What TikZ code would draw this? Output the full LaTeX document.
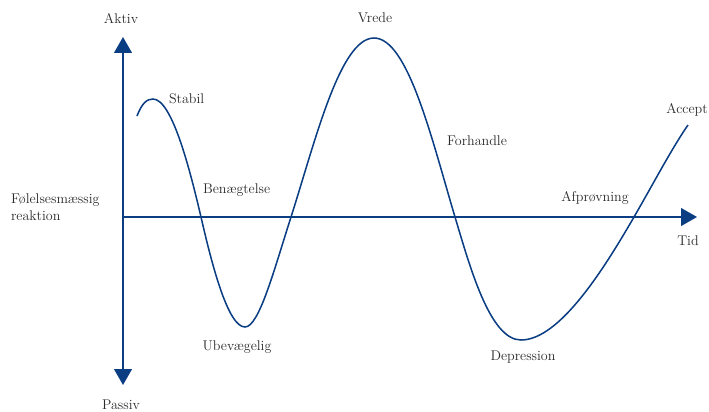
\documentclass[tikz,border=0pt]{standalone}
\usetikzlibrary{arrows.meta}
\definecolor{cblue}{HTML}{0A3D82}
\definecolor{ctext}{HTML}{2B2B2B}
\tikzset{
  every picture/.style={line width=1.5pt},
  axis/.style={draw=cblue, line width=1.6pt, -{Triangle[width=15pt, length=13.5pt]}},
  curve/.style={draw=cblue, line width=1.3pt},
  lbl/.style={font=\fontsize{12}{14}\selectfont, text=ctext, inner sep=1pt},
}

\begin{document}
\begin{tikzpicture}[x=0.03cm, y=-0.03cm]
  \useasboundingbox (0,0) rectangle (709,411);
  % axes
  \coordinate (o) at (123,217);
  \coordinate (top) at (123,37);
  \coordinate (bot) at (123,385);
  \coordinate (right) at (697,217);
  \draw[axis] (o) -- (top);
  \draw[axis] (o) -- (bot);
  \draw[axis] (o) -- (right);
  \node[lbl] (aktiv) at (121,19) {Aktiv};
  \node[lbl] (passiv) at (121,405) {Passiv};
  \node[lbl, align=left, anchor=west] (reakt) at (9,207) {Følelsesmæssig\\reaktion};
  \node[lbl] (tid) at (688,241) {Tid};
  % curve
  \draw[curve] (137,116) .. controls (142,103) and (147,99) .. (153,99)
    .. controls (172,99) and (190,170) .. (201,217)
    .. controls (212,265) and (228,327) .. (245,327)
    .. controls (259,327) and (274,270) .. (291,217)
    .. controls (315,142) and (340,38) .. (374,38)
    .. controls (408,38) and (432,140) .. (455,217)
    .. controls (470,267) and (490,340) .. (521,340)
    .. controls (560,340) and (605,267) .. (634,217)
    .. controls (652,186) and (672,148) .. (688,125);
  % stages
  \node[lbl, anchor=west] (stabil) at (167,99) {Stabil};
  \node[lbl, anchor=west] (benaeg) at (201,190) {Benægtelse};
  \node[lbl] (ubev) at (237,347) {Ubevægelig};
  \node[lbl] (vrede) at (375,18) {Vrede};
  \node[lbl, anchor=west] (forh) at (445,141) {Forhandle};
  \node[lbl] (depr) at (523,357) {Depression};
  \node[lbl] (afpr) at (595,198) {Afprøvning};
  \node[lbl] (accept) at (687,110) {Accept};
\end{tikzpicture}
\end{document}
